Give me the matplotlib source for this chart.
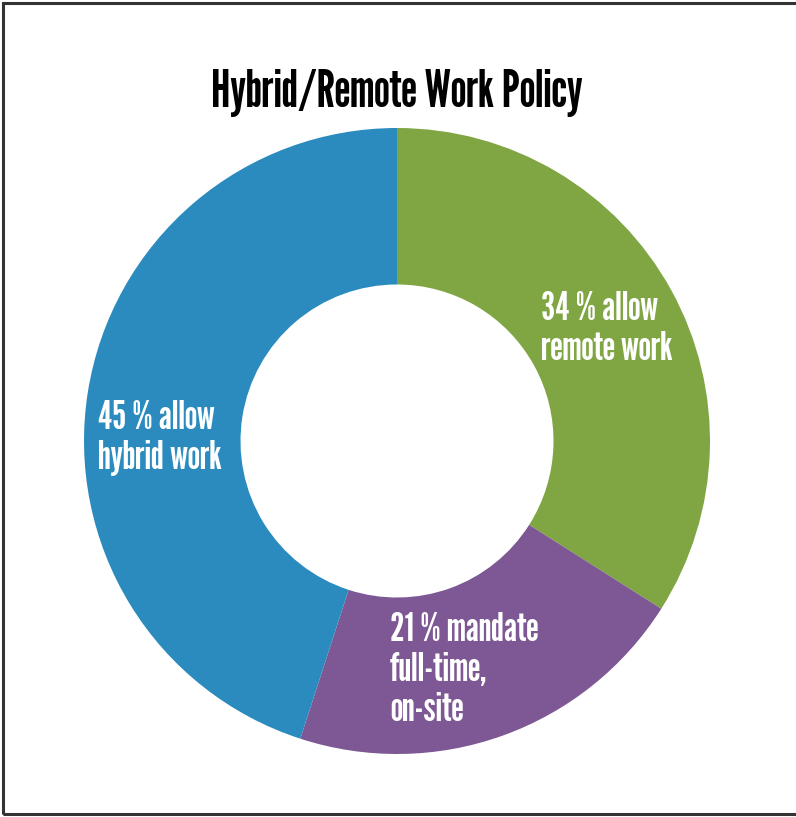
import matplotlib
matplotlib.use("Agg")
import matplotlib.pyplot as plt
from matplotlib.patches import Rectangle

categories = ["allow remote work", "mandate full-time, on-site", "allow hybrid work"]
values = [34, 21, 45]
colors = ["#80A644", "#7D5894", "#2B8BBE"]
labels = ["34 % allow\nremote work", "21 % mandate\nfull-time,\non-site", "45 % allow\nhybrid work"]
title = "Hybrid/Remote Work Policy"

fam = ["League Gothic", "DejaVu Sans"]

W, H = 796, 817
fig = plt.figure(figsize=(W / 100, H / 100), dpi=100)
cx, cy, R = 397, 441, 313
ax = fig.add_axes([(cx - R) / W, (H - cy - R) / H, 2 * R / W, 2 * R / H])
ax.pie(values, colors=colors, startangle=90, counterclock=False, radius=1.0,
       wedgeprops=dict(width=0.5, edgecolor="none"))
ax.set_xlim(-1, 1)
ax.set_ylim(-1, 1)
ax.set_aspect("equal")
ax.axis("off")

pos = [(541, 329), (390, 670), (98, 438)]
for lab, (px, py) in zip(labels, pos):
    ax.text((px - cx) / R, (cy - py) / R, lab, ha="left", va="center",
            multialignment="left", color="white", fontsize=29,
            family=fam, linespacing=1.15)

fig.text(397 / W, 1 - 93 / H, title, ha="center", va="center", fontsize=37,
         family=fam, color="black")

fig.patches.append(Rectangle((3 / W, 3 / H), 1.0, 1 - 6 / H, transform=fig.transFigure,
                             fill=False, edgecolor="#333333", linewidth=2.2))

fig.savefig("out.png", dpi=100, facecolor="white")
